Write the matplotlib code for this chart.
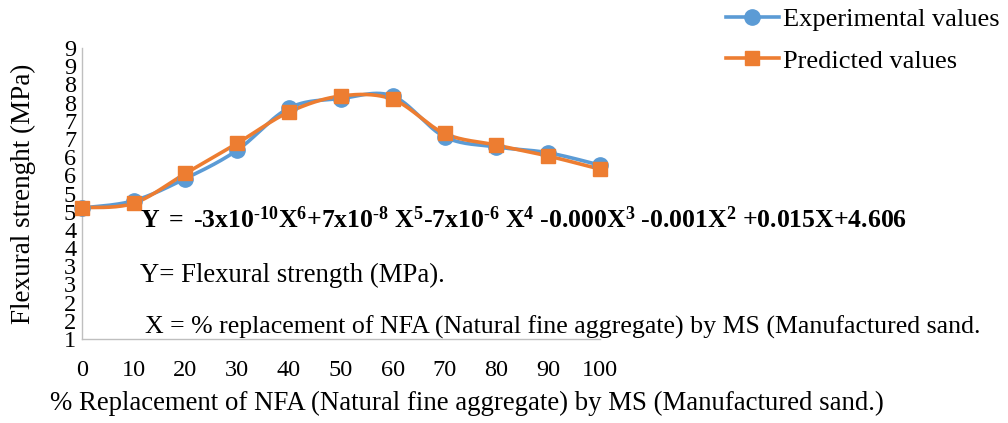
import numpy as np
import matplotlib
matplotlib.use("Agg")
import matplotlib.pyplot as plt
from matplotlib.lines import Line2D
from matplotlib.ticker import FixedLocator, FuncFormatter

plt.rcParams["font.family"] = ["Liberation Serif", "DejaVu Serif"]
plt.rcParams["mathtext.fontset"] = "custom"
plt.rcParams["mathtext.rm"] = "Liberation Serif"
plt.rcParams["mathtext.bf"] = "Liberation Serif:bold"
plt.rcParams["mathtext.it"] = "Liberation Serif:italic"

# % replacement of natural fine aggregate by manufactured sand
replacement = [0, 10, 20, 30, 40, 50, 60, 70, 80, 90, 100]
experimental = [4.60, 4.80, 5.41, 6.19, 7.35, 7.61, 7.68, 6.56, 6.28, 6.12, 5.78]
predicted = [4.61, 4.73, 5.55, 6.38, 7.24, 7.68, 7.59, 6.65, 6.33, 6.03, 5.67]

y_ticks = np.arange(1.0, 9.01, 0.5)
x_ticks = replacement

BLUE = "#5B9BD5"
ORANGE = "#ED7D31"
AXIS_GREY = "#BFBFBF"


def smooth(xs, ys, n=30):
    """Smoothed curve through the points (cubic Bezier, Catmull-Rom tangents)."""
    p = np.column_stack([xs, ys]).astype(float)
    ext = np.vstack([p[0], p, p[-1]])
    out = []
    t = np.linspace(0, 1, n)[:, None]
    for i in range(1, len(ext) - 2):
        p0, p1, p2, p3 = ext[i - 1], ext[i], ext[i + 1], ext[i + 2]
        c1 = p1 + (p2 - p0) / 6.0
        c2 = p2 - (p3 - p1) / 6.0
        seg = ((1 - t) ** 3) * p1 + 3 * ((1 - t) ** 2) * t * c1 + 3 * (1 - t) * t ** 2 * c2 + t ** 3 * p2
        out.append(seg if i == 1 else seg[1:])
    s = np.vstack(out)
    return s[:, 0], s[:, 1]


fig = plt.figure(figsize=(10.08, 4.23), dpi=100)
W, H = 1008, 423
ax = fig.add_axes([81.7 / W, 1 - 339 / H, (600 - 81.7) / W, (339 - 48) / H])

for ys, col, mk in [(experimental, BLUE, "o"), (predicted, ORANGE, "s")]:
    sx, sy = smooth(replacement, ys)
    ax.plot(sx, sy, color=col, lw=2.6, solid_capstyle="round", zorder=3)
    ax.plot(replacement, ys, ls="none", marker=mk, ms=11 if mk == "o" else 10.5,
            color=col, mec=col, zorder=4, clip_on=False)

ax.set_xlim(0, 100)
ax.set_ylim(1, 9)
ax.xaxis.set_major_locator(FixedLocator(x_ticks))
ax.yaxis.set_major_locator(FixedLocator(y_ticks))
ax.yaxis.set_major_formatter(FuncFormatter(lambda v, _: f"{int(np.floor(v + 0.5))}"))
ax.tick_params(axis="both", length=0, labelsize=17.5)
ax.tick_params(axis="x", pad=15)
ax.tick_params(axis="y", pad=4)
for s in ["top", "right"]:
    ax.spines[s].set_visible(False)
for s in ["left", "bottom"]:
    ax.spines[s].set_color(AXIS_GREY)
    ax.spines[s].set_linewidth(1.0)

ax.set_ylabel("Flexural strenght (MPa)", fontsize=19.5, labelpad=20)
fig.text(50 / W, 1 - 403 / H, "% Replacement of NFA (Natural fine aggregate) by MS (Manufactured sand.)",
         fontsize=19.3, ha="left", va="center")

eq = (r"$\mathbf{Y\ {=}\ \text{-}3x10^{\text{-}10}X^{6}{+}7x10^{\text{-}8}\ X^{5}\text{-}7x10^{\text{-}6}\ X^{4}\ \text{-}0.000X^{3}"
      r"\ \text{-}0.001X^{2}\ {+}0.015X{+}4.606}$")
fig.text(140 / W, 1 - 220 / H, eq, fontsize=18.5, ha="left", va="center")
fig.text(140 / W, 1 - 275 / H, "Y= Flexural strength (MPa).", fontsize=19.3, ha="left", va="center")
fig.text(145 / W, 1 - 327 / H, "X = % replacement of NFA (Natural fine aggregate) by MS (Manufactured sand.",
         fontsize=18.6, ha="left", va="center")

handles = [Line2D([], [], color=BLUE, lw=2.6, marker="o", ms=11),
           Line2D([], [], color=ORANGE, lw=2.6, marker="s", ms=10)]
fig.legend(handles, ["Experimental values", "Predicted values"], loc="upper left",
           bbox_to_anchor=(710 / W, 1 + 8 / H), frameon=False, fontsize=19.0,
           handlelength=2.0, handletextpad=0.15, labelspacing=0.68, borderpad=0.1)

fig.savefig("out.png", dpi=100)
